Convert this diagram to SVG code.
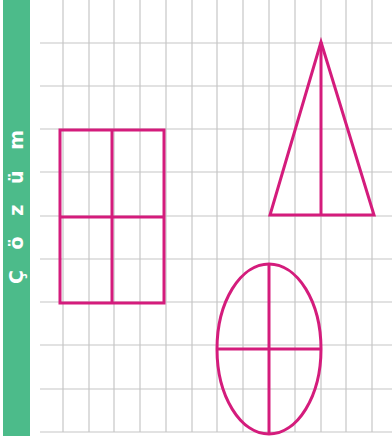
<svg xmlns="http://www.w3.org/2000/svg" width="392" height="443" viewBox="0 0 392 443">
<style>
.grid line{stroke:#c6c6c6;stroke-width:1.2}
.shape{fill:none;stroke:#d41c7c;stroke-width:3;stroke-linejoin:miter}
.title{font-family:"DejaVu Sans","Liberation Sans",sans-serif;font-size:19px;fill:#ffffff;font-weight:bold}
</style>
<rect width="392" height="443" fill="#ffffff"/>
<g id="grid" class="grid">
<line x1="63" y1="0" x2="63" y2="432"/>
<line x1="89" y1="0" x2="89" y2="432"/>
<line x1="114" y1="0" x2="114" y2="432"/>
<line x1="140" y1="0" x2="140" y2="432"/>
<line x1="166" y1="0" x2="166" y2="432"/>
<line x1="192" y1="0" x2="192" y2="432"/>
<line x1="217" y1="0" x2="217" y2="432"/>
<line x1="243" y1="0" x2="243" y2="432"/>
<line x1="269" y1="0" x2="269" y2="432"/>
<line x1="295" y1="0" x2="295" y2="432"/>
<line x1="321" y1="0" x2="321" y2="432"/>
<line x1="346" y1="0" x2="346" y2="432"/>
<line x1="372" y1="0" x2="372" y2="432"/>
<line x1="40" y1="43" x2="392" y2="43"/>
<line x1="40" y1="86" x2="392" y2="86"/>
<line x1="40" y1="129" x2="392" y2="129"/>
<line x1="40" y1="172" x2="392" y2="172"/>
<line x1="40" y1="216" x2="392" y2="216"/>
<line x1="40" y1="259" x2="392" y2="259"/>
<line x1="40" y1="302" x2="392" y2="302"/>
<line x1="40" y1="345" x2="392" y2="345"/>
<line x1="40" y1="389" x2="392" y2="389"/>
<line x1="40" y1="432" x2="392" y2="432"/>
</g>
<g id="label">
<rect x="3" y="0" width="27" height="436" fill="#4cbb8a"/>
<text class="title" transform="translate(23,284) rotate(-90)" textLength="154" lengthAdjust="spacing">Çözüm</text>
</g>
<g id="rectangle">
<rect class="shape" x="60" y="130" width="104" height="173"/>
<line class="shape" x1="112" y1="130" x2="112" y2="303"/>
<line class="shape" x1="60" y1="217" x2="164" y2="217"/>
</g>
<g id="triangle">
<polygon class="shape" points="321,42 374,215 270,215"/>
<line class="shape" x1="321" y1="42" x2="321" y2="215"/>
</g>
<g id="ellipse">
<ellipse class="shape" cx="269" cy="349" rx="52" ry="85"/>
<line class="shape" x1="269" y1="264" x2="269" y2="434"/>
<line class="shape" x1="217" y1="349" x2="321" y2="349"/>
</g>
</svg>
